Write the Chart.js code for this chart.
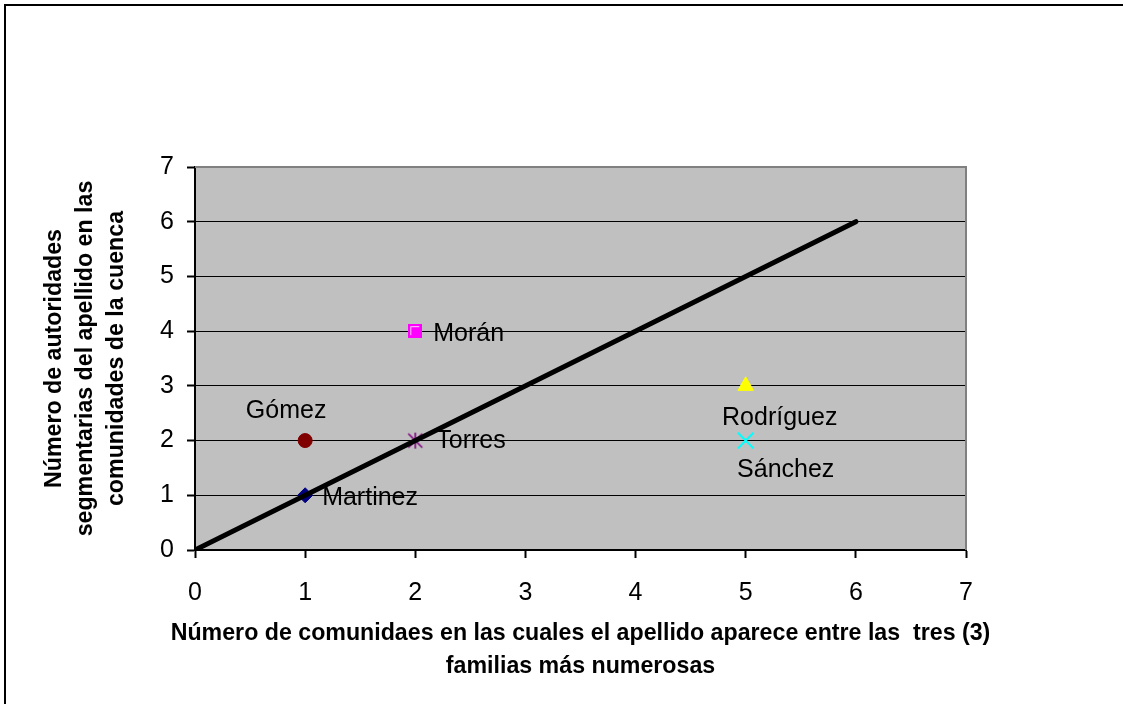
<!DOCTYPE html>
<html>
<head>
<meta charset="utf-8">
<script src="https://cdn.jsdelivr.net/npm/chart.js@4.4.1/dist/chart.umd.min.js"></script>
<style>
  body { margin: 0; background: #fff; overflow: hidden; }
  #frame { position: absolute; left: 4px; top: 4px; width: 1200px; height: 800px; border: 2px solid #000; }
  canvas { position: absolute; left: 0; top: 0; }
</style>
</head>
<body>
<div id="frame"></div>
<canvas id="chart" width="1123" height="704"></canvas>
<script>
// surnames and their two counts
const surnames = ['Martinez', 'Morán', 'Gómez', 'Torres', 'Rodríguez', 'Sánchez'];
const communities = [1, 2, 1, 2, 5, 5];
const authorities = [1, 4, 2, 2, 3, 2];

// reference line y = x
const refLineX = [0, 6];
const refLineY = [0, 6];

const tickValues = [0, 1, 2, 3, 4, 5, 6, 7];

const xTitle = [
  'Número de comunidaes en las cuales el apellido aparece entre las  tres (3)',
  'familias más numerosas'
];
const yTitle = [
  'Número de autoridades',
  'segmentarias del apellido en las',
  'comunidades de la cuenca'
];

const FONT = '"Liberation Sans", Arial, sans-serif';

// excel-like asterisk and square markers, drawn once on small canvases
function asterisk(color) {
  const c = document.createElement('canvas');
  c.width = 18; c.height = 18;
  const g = c.getContext('2d');
  g.strokeStyle = color;
  g.lineWidth = 1.6;
  g.beginPath();
  g.moveTo(2, 2); g.lineTo(16, 16);
  g.moveTo(16, 2); g.lineTo(2, 16);
  g.moveTo(9, 1); g.lineTo(9, 17);
  g.stroke();
  return c;
}

function squareMarker(color) {
  const c = document.createElement('canvas');
  c.width = 14; c.height = 14;
  const g = c.getContext('2d');
  g.fillStyle = color;
  g.fillRect(0, 0, 14, 14);
  g.fillStyle = '#ffd0ff';
  g.fillRect(2, 2, 9, 1);
  g.fillRect(2, 2, 1, 9);
  return c;
}

// marker look per surname
const markers = [
  { style: 'rectRot', color: '#000080', radius: 7.5, border: 1 },
  { style: squareMarker('#FF00FF'), color: '#FF00FF', radius: 7, border: 0 },
  { style: 'circle', color: '#800000', radius: 7, border: 1 },
  { style: asterisk('#800080'), color: '#800080', radius: 9, border: 0 },
  { style: 'triangle', color: '#FFFF00', radius: 9, border: 1 },
  { style: 'crossRot', color: '#00FFFF', radius: 11, border: 2 }
];

// where each data label sits relative to its point
const labelPlacement = [
  { align: 'left', dx: 17, dy: 3 },
  { align: 'left', dx: 18, dy: 3 },
  { align: 'center', dx: -19, dy: -29 },
  { align: 'left', dx: 21, dy: 1 },
  { align: 'center', dx: 34, dy: 32 },
  { align: 'center', dx: 40, dy: 30 }
];

const datasets = [{
  label: 'y = x',
  data: refLineX.map((v, i) => ({ x: v, y: refLineY[i] })),
  showLine: true,
  borderColor: '#000',
  borderWidth: 5,
  borderCapStyle: 'round',
  pointRadius: 0
}];

surnames.forEach((name, i) => {
  const m = markers[i];
  datasets.push({
    label: name,
    data: [{ x: communities[i], y: authorities[i] }],
    pointStyle: m.style,
    pointRadius: m.radius,
    pointBackgroundColor: m.color,
    pointBorderColor: m.color,
    pointBorderWidth: m.border
  });
});

const plotBackground = {
  id: 'plotBackground',
  beforeDraw(chart) {
    const { ctx, chartArea: a } = chart;
    ctx.save();
    ctx.fillStyle = '#C0C0C0';
    ctx.fillRect(a.left, a.top, a.right - a.left, a.bottom - a.top);
    ctx.restore();
  },
  beforeDatasetsDraw(chart) {
    const { ctx, chartArea: a } = chart;
    ctx.save();
    ctx.strokeStyle = '#808080';
    ctx.lineWidth = 2;
    ctx.beginPath();
    ctx.moveTo(a.left, a.top);
    ctx.lineTo(a.right, a.top);
    ctx.lineTo(a.right, a.bottom);
    ctx.stroke();
    ctx.restore();
  }
};

const textLayer = {
  id: 'textLayer',
  afterDraw(chart) {
    const { ctx, chartArea: a } = chart;
    const x = chart.scales.x, y = chart.scales.y;
    ctx.save();
    ctx.fillStyle = '#000';
    ctx.textBaseline = 'middle';

    ctx.font = '25px ' + FONT;
    surnames.forEach((name, i) => {
      const p = labelPlacement[i];
      ctx.textAlign = p.align;
      ctx.fillText(name,
        x.getPixelForValue(communities[i]) + p.dx,
        y.getPixelForValue(authorities[i]) + p.dy);
    });

    ctx.font = 'bold 23.2px ' + FONT;
    ctx.textAlign = 'center';
    const cx = (a.left + a.right) / 2;
    xTitle.forEach((line, i) => ctx.fillText(line, cx, 634 + i * 33));

    const cy = (a.top + a.bottom) / 2;
    yTitle.forEach((line, i) => {
      ctx.save();
      ctx.translate(55 + i * 31, cy);
      ctx.rotate(-Math.PI / 2);
      ctx.fillText(line, 0, 0);
      ctx.restore();
    });
    ctx.restore();
  }
};

const axisTicks = {
  min: 0,
  max: 7,
  ticks: { stepSize: 1, color: '#000', font: { family: FONT, size: 25 } },
  border: { color: '#000', width: 2 }
};

new Chart(document.getElementById('chart'), {
  type: 'scatter',
  data: { datasets },
  options: {
    responsive: false,
    animation: false,
    layout: { padding: { top: 167, right: 157, left: 0, bottom: 0 } },
    plugins: { legend: { display: false }, tooltip: { enabled: false } },
    scales: {
      x: {
        ...axisTicks,
        afterBuildTicks: s => { s.ticks = tickValues.map(v => ({ value: v })); },
        ticks: { ...axisTicks.ticks, padding: 20 },
        grid: { drawOnChartArea: false, tickLength: 8, tickColor: '#000', tickWidth: 2 },
        afterFit: s => { s.height = 154; }
      },
      y: {
        ...axisTicks,
        afterBuildTicks: s => { s.ticks = tickValues.map(v => ({ value: v })); },
        ticks: { ...axisTicks.ticks, padding: 13 },
        grid: {
          color: c => (c.tick && c.tick.value > 0 && c.tick.value < 7) ? '#000' : 'rgba(0,0,0,0)',
          lineWidth: 1,
          tickLength: 8,
          tickColor: '#000',
          tickWidth: 2
        },
        afterFit: s => { s.width = 195; }
      }
    }
  },
  plugins: [plotBackground, textLayer]
});
</script>
</body>
</html>
